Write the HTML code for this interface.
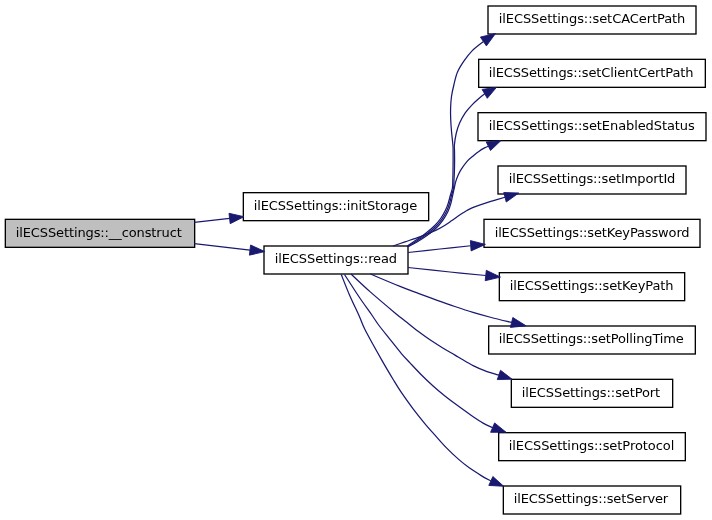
<!DOCTYPE html>
<html lang="en"><head><meta charset="utf-8"><title>ilECSSettings::__construct call graph</title>
<style>html,body{margin:0;padding:0;background:#fff}svg{display:block}text{font-family:"DejaVu Sans","Liberation Sans",sans-serif;font-size:13px;fill:#000}</style></head><body>
<svg width="712" height="520" viewBox="0 0 712 520">
<rect width="712" height="520" fill="#fff"/>
<g stroke="#000" stroke-width="1.33">
<rect x="5.33" y="219.33" width="189.34" height="28" fill="#bfbfbf"/>
<rect x="243.33" y="192.67" width="185.34" height="28" fill="#fff"/>
<rect x="264" y="246" width="144" height="28" fill="#fff"/>
<rect x="488" y="6" width="208" height="28" fill="#fff"/>
<rect x="478.67" y="59.33" width="226.66" height="28" fill="#fff"/>
<rect x="478" y="112.67" width="228" height="28" fill="#fff"/>
<rect x="498" y="166" width="188" height="28" fill="#fff"/>
<rect x="484" y="219.33" width="216" height="28" fill="#fff"/>
<rect x="499.33" y="272.67" width="185.34" height="28" fill="#fff"/>
<rect x="488.67" y="326" width="206.66" height="28" fill="#fff"/>
<rect x="511.33" y="379.33" width="161.34" height="28" fill="#fff"/>
<rect x="498.67" y="432.67" width="186.66" height="28" fill="#fff"/>
<rect x="503.33" y="486" width="177.34" height="28" fill="#fff"/>
</g>
<g fill="none" stroke="#191970" stroke-width="1.25">
<path d="M194.30,222.40 C200.18,221.75 223.72,219.13 229.60,218.48"/>
<path d="M194.30,243.70 C203.58,244.76 240.72,249.01 250.00,250.07"/>
<path d="M407.55,245.87 C408.80,245.03 412.08,242.93 415.06,240.86 C418.04,238.79 422.17,235.99 425.42,233.46 C428.66,230.94 431.98,228.19 434.52,225.70 C437.06,223.20 438.84,221.06 440.66,218.49 C442.48,215.92 444.17,212.85 445.44,210.29 C446.71,207.72 447.41,205.71 448.26,203.12 C449.11,200.53 449.84,197.26 450.53,194.74 C451.22,192.22 452.02,190.46 452.40,188.00 C452.78,185.54 452.70,182.72 452.80,180.00 C452.90,177.28 452.95,174.87 453.00,171.70 C453.05,168.53 453.08,164.52 453.10,161.00 C453.12,157.48 453.13,153.27 453.10,150.60 C453.07,147.93 453.17,148.23 452.90,145.00 C452.63,141.77 451.87,135.43 451.50,131.20 C451.13,126.97 450.85,123.45 450.70,119.60 C450.55,115.75 450.47,111.95 450.60,108.10 C450.73,104.25 450.96,100.35 451.50,96.50 C452.04,92.65 452.85,89.07 453.85,85.00 C454.85,80.93 455.77,76.15 457.50,72.10 C459.23,68.05 461.73,64.28 464.20,60.70 C466.67,57.12 469.10,53.80 472.30,50.60 C475.50,47.40 481.55,43.02 483.40,41.50"/>
<path d="M407.80,246.30 C409.10,245.53 412.53,243.67 415.60,241.70 C418.67,239.73 422.88,237.00 426.20,234.50 C429.52,232.00 432.90,229.23 435.50,226.70 C438.10,224.17 439.93,221.93 441.80,219.30 C443.67,216.67 445.42,213.53 446.70,210.90 C447.98,208.27 448.68,206.15 449.50,203.50 C450.32,200.85 450.92,197.58 451.60,195.00 C452.28,192.42 453.20,190.50 453.60,188.00 C454.00,185.50 453.87,182.72 454.00,180.00 C454.13,177.28 454.30,174.87 454.40,171.70 C454.50,168.53 454.58,164.52 454.60,161.00 C454.62,157.48 454.53,153.27 454.50,150.60 C454.47,147.93 454.12,147.85 454.40,145.00 C454.68,142.15 455.33,137.15 456.20,133.50 C457.07,129.85 458.07,126.57 459.60,123.10 C461.13,119.63 463.28,115.78 465.40,112.70 C467.52,109.62 470.00,107.00 472.30,104.60 C474.60,102.20 477.13,100.09 479.20,98.30 C481.27,96.51 483.78,94.59 484.70,93.85"/>
<path d="M408.05,246.73 C409.40,246.03 412.99,244.41 416.14,242.54 C419.29,240.68 423.59,238.01 426.98,235.54 C430.37,233.06 433.82,230.27 436.48,227.70 C439.14,225.13 441.03,222.81 442.94,220.11 C444.86,217.41 446.66,214.22 447.96,211.51 C449.26,208.81 449.96,206.59 450.74,203.88 C451.53,201.17 452.02,198.16 452.67,195.26 C453.31,192.37 454.06,188.85 454.60,186.50 C455.14,184.15 455.30,183.07 455.90,181.15 C456.50,179.23 457.27,177.04 458.20,175.00 C459.13,172.96 459.98,171.22 461.50,168.90 C463.02,166.58 465.37,163.27 467.30,161.10 C469.23,158.93 471.18,157.52 473.10,155.90 C475.02,154.28 476.88,152.73 478.80,151.40 C480.72,150.07 483.01,148.77 484.60,147.90 C486.19,147.03 487.73,146.48 488.35,146.20"/>
<path d="M393.00,246.00 C395.00,245.30 401.23,243.08 405.00,241.80 C408.77,240.52 412.07,239.55 415.60,238.30 C419.13,237.05 422.68,235.70 426.20,234.30 C429.72,232.90 433.57,231.42 436.70,229.90 C439.83,228.38 442.53,226.72 445.00,225.20 C447.47,223.68 449.42,222.25 451.50,220.80 C453.58,219.35 455.57,217.83 457.50,216.50 C459.43,215.17 461.27,213.95 463.10,212.80 C464.93,211.65 466.58,210.58 468.50,209.60 C470.42,208.62 471.65,208.02 474.60,206.90 C477.55,205.78 482.35,204.15 486.20,202.90 C490.05,201.65 494.57,200.34 497.70,199.40 C500.83,198.46 503.78,197.61 505.00,197.25"/>
<path d="M408.00,252.50 C413.33,251.92 429.54,250.12 440.00,249.00 C450.46,247.88 465.62,246.29 470.75,245.75"/>
<path d="M408.00,267.50 C415.00,268.25 437.04,270.67 450.00,272.00 C462.96,273.33 479.79,274.92 485.75,275.50"/>
<path d="M370.40,274.00 C375.33,276.07 392.02,283.17 400.00,286.40 C407.98,289.63 412.22,291.12 418.30,293.40 C424.38,295.68 430.42,297.92 436.50,300.10 C442.58,302.28 448.72,304.45 454.80,306.50 C460.88,308.55 466.92,310.57 473.00,312.40 C479.08,314.23 484.87,315.82 491.30,317.50 C497.73,319.18 508.22,321.62 511.60,322.45"/>
<path d="M351.00,274.00 C354.17,276.93 362.67,285.12 370.00,291.60 C377.33,298.08 388.92,307.82 395.00,312.90 C401.08,317.98 402.65,319.03 406.50,322.10 C410.35,325.18 414.25,328.43 418.10,331.35 C421.95,334.27 425.75,336.99 429.60,339.60 C433.45,342.21 436.97,344.42 441.20,347.00 C445.43,349.58 451.62,353.10 455.00,355.10 C458.38,357.10 458.48,357.25 461.50,359.00 C464.52,360.75 469.25,363.67 473.10,365.60 C476.95,367.53 480.77,369.15 484.60,370.60 C488.43,372.05 493.72,373.57 496.10,374.30 C498.48,375.03 498.43,374.84 498.90,374.95"/>
<path d="M344.50,274.50 C347.00,278.33 355.00,290.83 359.50,297.50 C364.00,304.17 368.31,309.92 371.50,314.50 C374.69,319.08 375.63,320.94 378.65,325.00 C381.67,329.06 385.84,334.13 389.60,338.85 C393.36,343.57 397.80,349.29 401.20,353.30 C404.60,357.31 406.62,359.28 410.00,362.90 C413.38,366.52 417.65,371.15 421.50,375.00 C425.35,378.85 429.25,382.53 433.10,386.00 C436.95,389.47 440.75,392.70 444.60,395.80 C448.45,398.90 451.80,401.37 456.20,404.60 C460.60,407.83 466.52,412.12 471.00,415.20 C475.48,418.28 479.50,421.03 483.10,423.10 C486.70,425.17 491.02,426.85 492.60,427.60"/>
<path d="M341.25,274.50 C342.62,277.92 346.49,288.04 349.50,295.00 C352.51,301.96 356.68,310.42 359.30,316.25 C361.92,322.08 361.50,322.77 365.20,330.00 C368.90,337.23 376.78,351.27 381.50,359.60 C386.22,367.93 390.17,374.48 393.50,380.00 C396.83,385.52 398.23,387.89 401.50,392.70 C404.77,397.51 409.25,403.75 413.10,408.85 C416.95,413.95 420.95,418.91 424.60,423.30 C428.25,427.69 431.35,431.10 435.00,435.20 C438.65,439.30 442.65,443.96 446.50,447.90 C450.35,451.84 454.25,455.48 458.10,458.85 C461.95,462.22 465.75,465.31 469.60,468.10 C473.45,470.89 477.66,473.46 481.20,475.60 C484.74,477.74 489.24,480.06 490.85,480.95"/>
</g>
<g fill="#191970" stroke="#191970" stroke-width="0.9">
<polygon points="244,216.7 229,213.3 230.2,223.65"/>
<polygon points="264.8,251.6 250.6,245 249.4,255.15"/>
<polygon points="495.5,33.5 480.4,37.1 486.4,45.9"/>
<polygon points="496.5,87.3 482.1,89.4 487.3,98.3"/>
<polygon points="501,140.5 486.2,141.9 490.5,150.5"/>
<polygon points="518.75,193 503.75,192.5 506.25,202"/>
<polygon points="485.4,244.4 470.4,240.6 471.1,250.9"/>
<polygon points="500.5,277.1 486.3,270.3 485.2,280.7"/>
<polygon points="526,325.8 512.8,317.5 510.4,327.4"/>
<polygon points="512.1,379.2 500.5,370.3 497.3,379.6"/>
<polygon points="506.1,432.3 494.6,422.9 490.6,432.3"/>
<polygon points="503.7,486.3 492.9,476.5 488.8,485.4"/>
</g>
<g style="filter:grayscale(1)">
<text x="15.66" y="237" textLength="166.16" lengthAdjust="spacing">ilECSSettings::__construct</text>
<text x="253.67" y="210" textLength="163.48" lengthAdjust="spacing">ilECSSettings::initStorage</text>
<text x="274.67" y="263" textLength="122.45" lengthAdjust="spacing">ilECSSettings::read</text>
<text x="498.67" y="23" textLength="186.65" lengthAdjust="spacing">ilECSSettings::setCACertPath</text>
<text x="488.67" y="77" textLength="204.78" lengthAdjust="spacing">ilECSSettings::setClientCertPath</text>
<text x="488.67" y="130" textLength="206.12" lengthAdjust="spacing">ilECSSettings::setEnabledStatus</text>
<text x="508.67" y="183" textLength="166.70" lengthAdjust="spacing">ilECSSettings::setImportId</text>
<text x="494.67" y="237" textLength="194.95" lengthAdjust="spacing">ilECSSettings::setKeyPassword</text>
<text x="509.67" y="290" textLength="163.77" lengthAdjust="spacing">ilECSSettings::setKeyPath</text>
<text x="498.67" y="343" textLength="185.08" lengthAdjust="spacing">ilECSSettings::setPollingTime</text>
<text x="521.67" y="397" textLength="138.56" lengthAdjust="spacing">ilECSSettings::setPort</text>
<text x="508.67" y="450" textLength="165.66" lengthAdjust="spacing">ilECSSettings::setProtocol</text>
<text x="513.67" y="503" textLength="154.50" lengthAdjust="spacing">ilECSSettings::setServer</text>
</g>
</svg></body></html>
